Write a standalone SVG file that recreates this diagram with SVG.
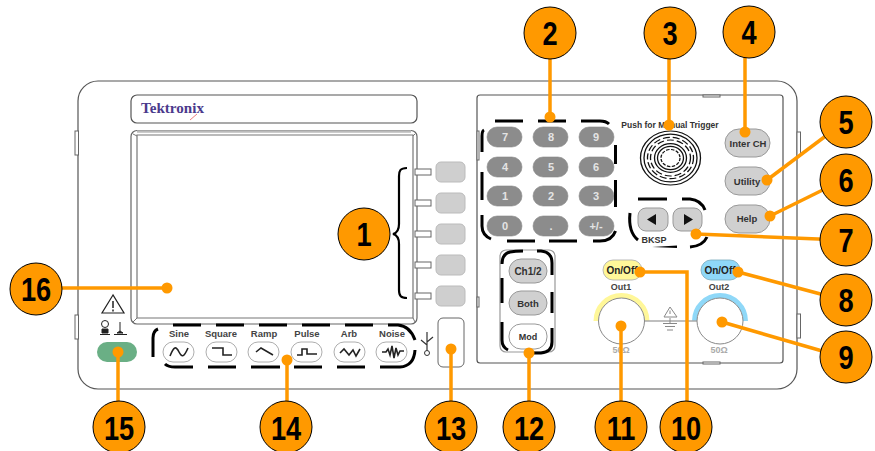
<svg xmlns="http://www.w3.org/2000/svg" width="875" height="451" viewBox="0 0 875 451">
<style>
text{font-family:"Liberation Sans",Arial,sans-serif;text-anchor:middle}
.o{fill:none;stroke:#555;stroke-width:1.2}
.dash{fill:none;stroke:#000;stroke-width:3}
.kp{fill:#8c8c8c;stroke:#888;stroke-width:.6}
.kt{fill:#e4e4e4;font-size:11px;font-weight:bold}
.sk{fill:#cfcfcf;stroke:#bbb;stroke-width:1}
.tab{fill:#fff;stroke:#666;stroke-width:1}
.gb{fill:#d0d0d0;stroke:#999;stroke-width:1}
.bt{fill:#333;font-size:9.500px;font-weight:bold}
.lb{fill:#444;font-size:9px;font-weight:bold}
.wl{fill:#444;font-size:9.500px;font-weight:bold}
.pill{fill:#fff;stroke:#999;stroke-width:.8}
.wave{fill:none;stroke:#222;stroke-width:1.6}
.c{fill:#ff9900;stroke:#000;stroke-width:1}
.n{fill:#000;font-size:34px;font-weight:bold}
.l{fill:none;stroke:#ff9900;stroke-width:3.5}
.d{fill:#ff9900}
.k{fill:none;stroke:#111;stroke-width:1.3}
</style>
<rect width="875" height="451" fill="#fff"/>
<g id="panel">
<rect class="o" x="78" y="81" width="719" height="308" rx="20"/>
<rect class="tab" x="75" y="131" width="3.500" height="24"/>
<rect class="tab" x="75" y="315" width="3.500" height="24"/>
<rect class="tab" x="797" y="132" width="3.500" height="24"/>
<rect class="tab" x="797" y="314" width="3.500" height="24"/>
<rect class="o" x="131" y="95" width="286" height="28" rx="6"/>
<text x="172.500" y="113" textLength="63" lengthAdjust="spacingAndGlyphs" style="font-family:'Liberation Serif',serif;font-size:15.500px;font-weight:bold;fill:#4b3a8c">Tektronix</text>
<path d="M190 120L197 114" stroke="#f08080" stroke-width="1" fill="none"/>
<rect x="131" y="130.500" width="286" height="193.500" rx="6" fill="none" stroke="#666" stroke-width="1.200"/>
<path d="M137 318V135H413V318H137" fill="none" stroke="#777" stroke-width="1.200"/>
<path d="M133 134L137 136M415 134L413 136M133 322L137 318M415 322L413 318" stroke="#777" fill="none"/>
<path d="M137 131.500H411" stroke="#bbb" stroke-width="2.500" fill="none"/>
<rect class="o" x="477" y="95" width="306" height="268" rx="3"/>
<rect class="tab" x="703" y="95" width="17" height="2"/>
<rect class="tab" x="703" y="362" width="17" height="2"/>
<rect class="tab" x="477" y="131" width="2" height="29"/>
<rect class="tab" x="477" y="297" width="2" height="10"/>
</g>
<g id="softkeys">
<rect class="tab" x="415" y="169" width="16" height="6"/><rect class="sk" x="436" y="162" width="29" height="20" rx="5"/>
<rect class="tab" x="415" y="200" width="16" height="6"/><rect class="sk" x="436" y="193" width="29" height="20" rx="5"/>
<rect class="tab" x="415" y="231" width="16" height="6"/><rect class="sk" x="436" y="224" width="29" height="20" rx="5"/>
<rect class="tab" x="415" y="262" width="16" height="6"/><rect class="sk" x="436" y="255" width="29" height="20" rx="5"/>
<rect class="tab" x="415" y="293" width="16" height="6"/><rect class="sk" x="436" y="286" width="29" height="20" rx="5"/>
<path d="M407 168C400 168 399 171 399 176V224C399 230 397 233 393 234C397 235 399 238 399 244V290C399 296 401 298 407 298" fill="none" stroke="#000" stroke-width="2.200"/>
</g>
<g id="keypad">
<rect class="kp" x="487" y="127" width="35" height="20" rx="10"/><rect class="kp" x="533" y="127" width="35" height="20" rx="10"/><rect class="kp" x="579" y="127" width="35" height="20" rx="10"/>
<rect class="kp" x="487" y="157" width="35" height="20" rx="10"/><rect class="kp" x="533" y="157" width="35" height="20" rx="10"/><rect class="kp" x="579" y="157" width="35" height="20" rx="10"/>
<rect class="kp" x="487" y="186" width="35" height="20" rx="10"/><rect class="kp" x="533" y="186" width="35" height="20" rx="10"/><rect class="kp" x="579" y="186" width="35" height="20" rx="10"/>
<rect class="kp" x="487" y="216" width="35" height="20" rx="10"/><rect class="kp" x="533" y="216" width="35" height="20" rx="10"/><rect class="kp" x="579" y="216" width="35" height="20" rx="10"/>
<text class="kt" x="505" y="141">7</text><text class="kt" x="551" y="141">8</text><text class="kt" x="596" y="141">9</text>
<text class="kt" x="505" y="171">4</text><text class="kt" x="551" y="171">5</text><text class="kt" x="596" y="171">6</text>
<text class="kt" x="505" y="200">1</text><text class="kt" x="551" y="200">2</text><text class="kt" x="596" y="200">3</text>
<text class="kt" x="505" y="230">0</text><text class="kt" x="551" y="230">.</text><text class="kt" x="596" y="230">+/-</text>
<path class="dash" d="M495 121H523M538 121H566M581 121H600Q606 121 609 124M615.500 145V164M615.500 180V207M615.500 231Q612 241 600 241H593M577 241H549M535 241H507M491 239Q482 235 482 226V215M482 200V172M482 152V136Q482 131 484 130"/>
</g>
<g id="knob">
<text x="670" y="128" style="font-size:8.500px;font-weight:bold;fill:#333">Push for Manual  Trigger</text>
<g transform="translate(670.500,158) scale(1,.9)">
<circle class="k" r="30" stroke-width="1.500"/>
<circle class="k" r="26.500" stroke-width="1.500"/>
<circle class="k" r="23" stroke-width="1.500" stroke-dasharray="7 3"/>
<circle class="k" r="20" stroke-width="1.500" stroke-dasharray="7 3"/>
<circle class="k" r="16"/>
<circle class="k" r="13"/>
<circle class="k" r="9.500" stroke-width="1.800" stroke-dasharray="3.500 1.500"/>
</g>
</g>
<g id="sidebuttons">
<rect class="gb" x="725" y="129" width="45" height="28" rx="14"/><text class="bt" x="748" y="147">Inter CH</text>
<rect class="gb" x="725" y="167" width="45" height="28" rx="14"/><text class="bt" x="747" y="185">Utility</text>
<rect class="gb" x="725" y="205" width="45" height="28" rx="14"/><text class="bt" x="747" y="222">Help</text>
</g>
<g id="arrowkeys">
<rect class="gb" x="638" y="208" width="30" height="23" rx="8"/>
<rect class="gb" x="673" y="208" width="29" height="23" rx="8"/>
<path d="M647 219.500L656 214V225Z" fill="#111"/>
<path d="M693 219.500L684 214V225Z" fill="#111"/>
<text x="654" y="243" style="font-size:9px;font-weight:bold;fill:#333">BKSP</text>
<path d="M652 247L677 245.500V248Z" fill="#000"/>
<path class="dash" d="M638 199H667M682 199H690Q701 200 705 210M707 237Q703 246 690 247M630 213Q628 232 638 240"/>
</g>
<g id="channel">
<rect x="500" y="250" width="55" height="102" rx="6" fill="none" stroke="#999" stroke-width="1.200"/>
<rect class="gb" x="509" y="259" width="38" height="24" rx="12"/><text x="528" y="275" style="font-size:10px;font-weight:bold;fill:#333">Ch1/2</text>
<rect class="gb" x="509" y="291" width="38" height="24" rx="12"/><text class="bt" x="528" y="306.500">Both</text>
<rect x="509" y="324" width="38" height="25" rx="12" fill="#fff" stroke="#999"/><text class="bt" x="528" y="340" style="font-size:9px">Mod</text>
<path class="dash" d="M502 264Q502 254 510 252Q515 251 523 251M537 251H541Q552 252 552 263V275M552 292V313M552 328V342Q552 352 541 353H530M502 278V303M502 322V340Q502 347 508 350"/>
</g>
<g id="outputs">
<rect x="603" y="260" width="39" height="20" rx="10" fill="#fff799" stroke="#aaa" stroke-width=".8"/>
<text x="622" y="274" style="font-size:10px;font-weight:bold;fill:#222">On/Off</text>
<text class="lb" x="621" y="290">Out1</text>
<rect x="701" y="260" width="39" height="20" rx="10" fill="#8fd8f8" stroke="#7ab" stroke-width=".8"/>
<text x="720" y="274" style="font-size:10px;font-weight:bold;fill:#222">On/Off</text>
<text class="lb" x="719" y="290">Out2</text>
<path d="M596 321A25.500 25.500 0 0 1 647 321" fill="none" stroke="#fff799" stroke-width="5"/>
<path d="M694.500 321A25.500 25.500 0 0 1 745.500 321" fill="none" stroke="#8fd8f8" stroke-width="5"/>
<path d="M644 321H697" stroke="#aaa" stroke-width="1.500" fill="none"/>
<circle cx="621.500" cy="321" r="23" fill="#fff" stroke="#888"/>
<circle cx="720" cy="321" r="23" fill="#fff" stroke="#888"/>
<path d="M670 307L664 317H677Z" fill="#fff" stroke="#888"/>
<path d="M670 310.500V314" stroke="#888"/>
<path d="M670 318V323M663 323.500H677M665 326.500H675M667 330H673" stroke="#888" fill="none"/>
<text x="621" y="353" style="font-size:9px;font-weight:bold;fill:#aaa">50Ω</text>
<text x="719" y="353" style="font-size:9px;font-weight:bold;fill:#aaa">50Ω</text>
</g>
<g id="power">
<path d="M113 295L102 313H124Z" fill="#fff" stroke="#222" stroke-width="1.200"/>
<path d="M113 301V308M113 309.500V311.500" stroke="#222" stroke-width="1.500" fill="none"/>
<circle cx="105" cy="324" r="3.500" fill="#fff" stroke="#222"/>
<path d="M102 329H108V333H102ZM100 334.500H110M120 322V331M117 333L120 331L123 333ZM114 334.500H127" fill="#222" stroke="#222"/>
<rect x="97" y="342" width="40" height="20" rx="10" fill="#6aaf85"/>
</g>
<g id="waveforms">
<text class="wl" x="179" y="337">Sine</text><text class="wl" x="221" y="337">Square</text><text class="wl" x="264" y="337">Ramp</text><text class="wl" x="307" y="337">Pulse</text><text class="wl" x="349" y="337">Arb</text><text class="wl" x="392" y="337">Noise</text>
<rect class="pill" x="163" y="342" width="31" height="20" rx="10"/><rect class="pill" x="206" y="342" width="31" height="20" rx="10"/><rect class="pill" x="248" y="342" width="31" height="20" rx="10"/><rect class="pill" x="291" y="342" width="31" height="20" rx="10"/><rect class="pill" x="334" y="342" width="31" height="20" rx="10"/><rect class="pill" x="376" y="342" width="31" height="20" rx="10"/>
<path class="wave" d="M170 356C174 346 176 346 179 352C182 358 184 357 188 348"/>
<path class="wave" d="M212 348H223V355H232"/>
<path class="wave" d="M256 352L261 348L273 355"/>
<path class="wave" d="M297 355H302V349H307V354H317"/>
<path class="wave" d="M340 353L344 349L349 355L353 350L356 356L360 349"/>
<path class="wave" d="M382 352H386L388 349L390 355L392 346L394 358L396 348L398 355L400 351H404"/>
<path class="dash" d="M173 325H201M216 325H244M259 325H287M302 325H330M345 325H373M388 325H398Q410 326 415 340M153 357V338Q153 331 158 329M165 364Q168 367 175 367H193M208 367H236M251 367H280M294 367H322M337 367H365M380 367H400Q414 366 415 350"/>
<path d="M427 332V352M427 345L421 340M427 342L433 337" fill="none" stroke="#333" stroke-width="1.200"/>
<circle cx="427" cy="353" r="2.500" fill="#fff" stroke="#333"/>
</g>
<g id="usb"><rect x="438" y="318" width="26" height="49" rx="5" fill="#fff" stroke="#666"/></g>
<g id="connectors">
<path class="l" d="M550 33V117"/>
<path class="l" d="M669 33V125"/>
<path class="l" d="M745 32V132"/>
<path class="l" d="M843 123L767 180"/>
<path class="l" d="M843 180L770 216"/>
<path class="l" d="M843 240L696 234"/>
<path class="l" d="M843 300L738 272"/>
<path class="l" d="M843 357L722 322"/>
<path class="l" d="M640 272H687V425"/>
<path class="l" d="M621 326V425"/>
<path class="l" d="M529 353V425"/>
<path class="l" d="M451 349V425"/>
<path class="l" d="M287 360V425"/>
<path class="l" d="M118 352V425"/>
<path class="l" d="M36 288H167"/>
<circle class="d" cx="550" cy="117" r="5.500"/><circle class="d" cx="669" cy="125" r="5.500"/><circle class="d" cx="745" cy="132" r="5.500"/><circle class="d" cx="767" cy="180" r="5.500"/><circle class="d" cx="770" cy="216" r="5.500"/><circle class="d" cx="696" cy="234" r="5.500"/><circle class="d" cx="738" cy="272" r="5.500"/><circle class="d" cx="722" cy="322" r="5.500"/><circle class="d" cx="640" cy="272" r="5.500"/><circle class="d" cx="621" cy="326" r="5.500"/><circle class="d" cx="529" cy="353" r="5.500"/><circle class="d" cx="451" cy="349" r="5.500"/><circle class="d" cx="287" cy="360" r="5.500"/><circle class="d" cx="118" cy="352" r="5.500"/><circle class="d" cx="167" cy="288" r="5.500"/>
</g>
<g id="n1"><circle class="c" cx="364" cy="234" r="26"/><text class="n" transform="translate(364,246) scale(.8,1)">1</text></g>
<g id="n2"><circle class="c" cx="550" cy="33" r="26"/><text class="n" transform="translate(550,45) scale(.8,1)">2</text></g>
<g id="n3"><circle class="c" cx="670" cy="33" r="26"/><text class="n" transform="translate(670,45) scale(.8,1)">3</text></g>
<g id="n4"><circle class="c" cx="749" cy="32" r="26"/><text class="n" transform="translate(749,44) scale(.8,1)">4</text></g>
<g id="n5"><circle class="c" cx="846" cy="122" r="26"/><text class="n" transform="translate(846,134) scale(.8,1)">5</text></g>
<g id="n6"><circle class="c" cx="846" cy="180" r="26"/><text class="n" transform="translate(846,192) scale(.8,1)">6</text></g>
<g id="n7"><circle class="c" cx="846" cy="240" r="26"/><text class="n" transform="translate(846,252) scale(.8,1)">7</text></g>
<g id="n8"><circle class="c" cx="846" cy="300" r="26"/><text class="n" transform="translate(846,312) scale(.8,1)">8</text></g>
<g id="n9"><circle class="c" cx="846" cy="357" r="26"/><text class="n" transform="translate(846,369) scale(.8,1)">9</text></g>
<g id="n10"><circle class="c" cx="686" cy="427" r="26"/><text class="n" transform="translate(686,440) scale(.8,1)">10</text></g>
<g id="n11"><circle class="c" cx="621" cy="427" r="26"/><text class="n" transform="translate(621,440) scale(.8,1)">11</text></g>
<g id="n12"><circle class="c" cx="529" cy="427" r="26"/><text class="n" transform="translate(529,440) scale(.8,1)">12</text></g>
<g id="n13"><circle class="c" cx="451" cy="427" r="26"/><text class="n" transform="translate(451,440) scale(.8,1)">13</text></g>
<g id="n14"><circle class="c" cx="286" cy="427" r="26"/><text class="n" transform="translate(286,440) scale(.8,1)">14</text></g>
<g id="n15"><circle class="c" cx="119" cy="427" r="26"/><text class="n" transform="translate(119,440) scale(.8,1)">15</text></g>
<g id="n16"><circle class="c" cx="36" cy="289" r="26"/><text class="n" transform="translate(36,301) scale(.8,1)">16</text></g>
</svg>
